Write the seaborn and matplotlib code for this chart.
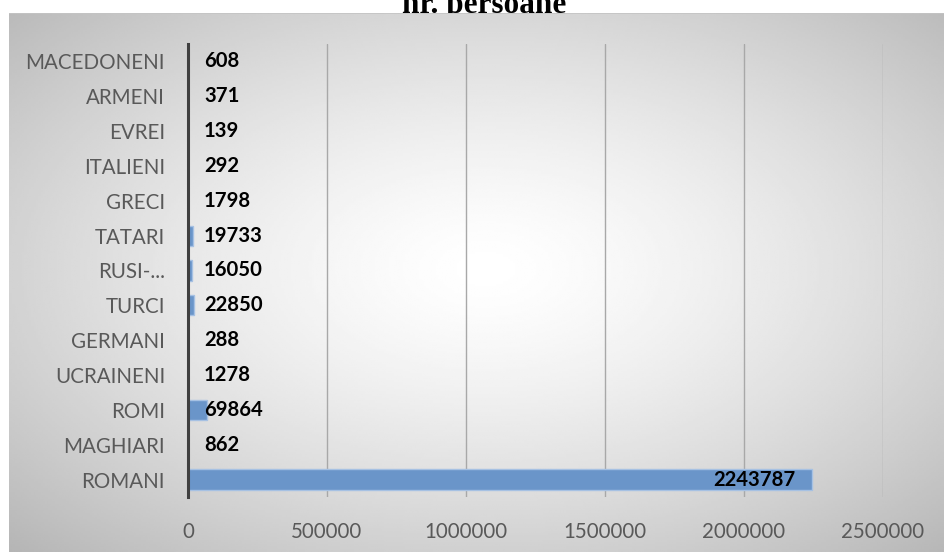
import numpy as np
import matplotlib
matplotlib.use("Agg")
import matplotlib.pyplot as plt
import seaborn as sns

# data, top to bottom as shown in the chart
categories = ["MACEDONENI", "ARMENI", "EVREI", "ITALIENI", "GRECI", "TATARI",
              "RUSI-...", "TURCI", "GERMANI", "UCRAINENI", "ROMI", "MAGHIARI", "ROMANI"]
persons = [608, 371, 139, 292, 1798, 19733, 16050, 22850, 288, 1278, 69864, 862, 2243787]
x_ticks = [0, 500000, 1000000, 1500000, 2000000, 2500000]
title = "nr. persoane"

sns.set_style("white")
plt.rcParams["font.family"] = ["Lato", "DejaVu Sans"]

W, H = 944, 552
fig = plt.figure(figsize=(W / 100, H / 100), dpi=100)
fig.patch.set_facecolor("white")

# title sits behind the grey box, so its lower part is hidden
fig.text(484 / W, 1 - 13 / H, title, ha="center", va="baseline",
         fontsize=22.5, fontweight="bold", family="Liberation Serif",
         color="black", zorder=-1)

# radial grey gradient background box
bg = fig.add_axes([9 / W, 0, (W - 9) / W, (H - 13) / H], zorder=0)
gx, gy = np.meshgrid(np.linspace(-1, 1, 400), np.linspace(-1, 1, 240))
r = np.sqrt(((gx - 0.02) / 1.0) ** 2 + ((gy + 0.05) / 1.0) ** 2)
shade = np.clip(1.0 - 0.17 * r ** 1.4, 0, 1)
bg.imshow(shade, cmap="gray", vmin=0, vmax=1, aspect="auto",
          extent=[0, 1, 0, 1], interpolation="bilinear")
bg.axhline(1, color="#c4c4c4", lw=1.2)
bg.set_axis_off()

# main chart
ax = fig.add_axes([188 / W, 1 - 497 / H, 695 / W, (497 - 44) / H], zorder=1)
ax.patch.set_alpha(0)
sns.barplot(x=persons, y=categories, orient="h", color="#6a95c9",
            edgecolor="#a6c1e3", linewidth=1, width=0.58, saturation=1, ax=ax)

ax.set_xlim(0, 2500000)
ax.set_ylim(len(categories) - 0.5, -0.5)
ax.set_xticks(x_ticks)
ax.set_xticklabels([str(t) for t in x_ticks])
for t in x_ticks[1:]:
    ax.axvline(t, color="#a8a8a8", lw=1, zorder=0.5)

for s in ["top", "right", "bottom"]:
    ax.spines[s].set_visible(False)
ax.spines["left"].set_color("#404040")
ax.spines["left"].set_linewidth(2.2)
ax.spines["left"].set_zorder(3)

ax.tick_params(axis="both", length=0, labelsize=14.8, colors="#595959")
ax.tick_params(axis="y", pad=16.5)
ax.tick_params(axis="x", pad=18)
ax.set_xlabel("")
ax.set_ylabel("")

# value labels
for i, v in enumerate(persons):
    if v > 1000000:
        ax.annotate(str(v), (v, i), xytext=(-12, 0), textcoords="offset points",
                    ha="right", va="center", fontsize=14.6, fontweight="bold",
                    color="black", zorder=4)
    else:
        ax.annotate(str(v), (0, i), xytext=(11.5, 0), textcoords="offset points",
                    ha="left", va="center", fontsize=14.6, fontweight="bold",
                    color="black", zorder=4)

fig.savefig("out.png", dpi=100)
